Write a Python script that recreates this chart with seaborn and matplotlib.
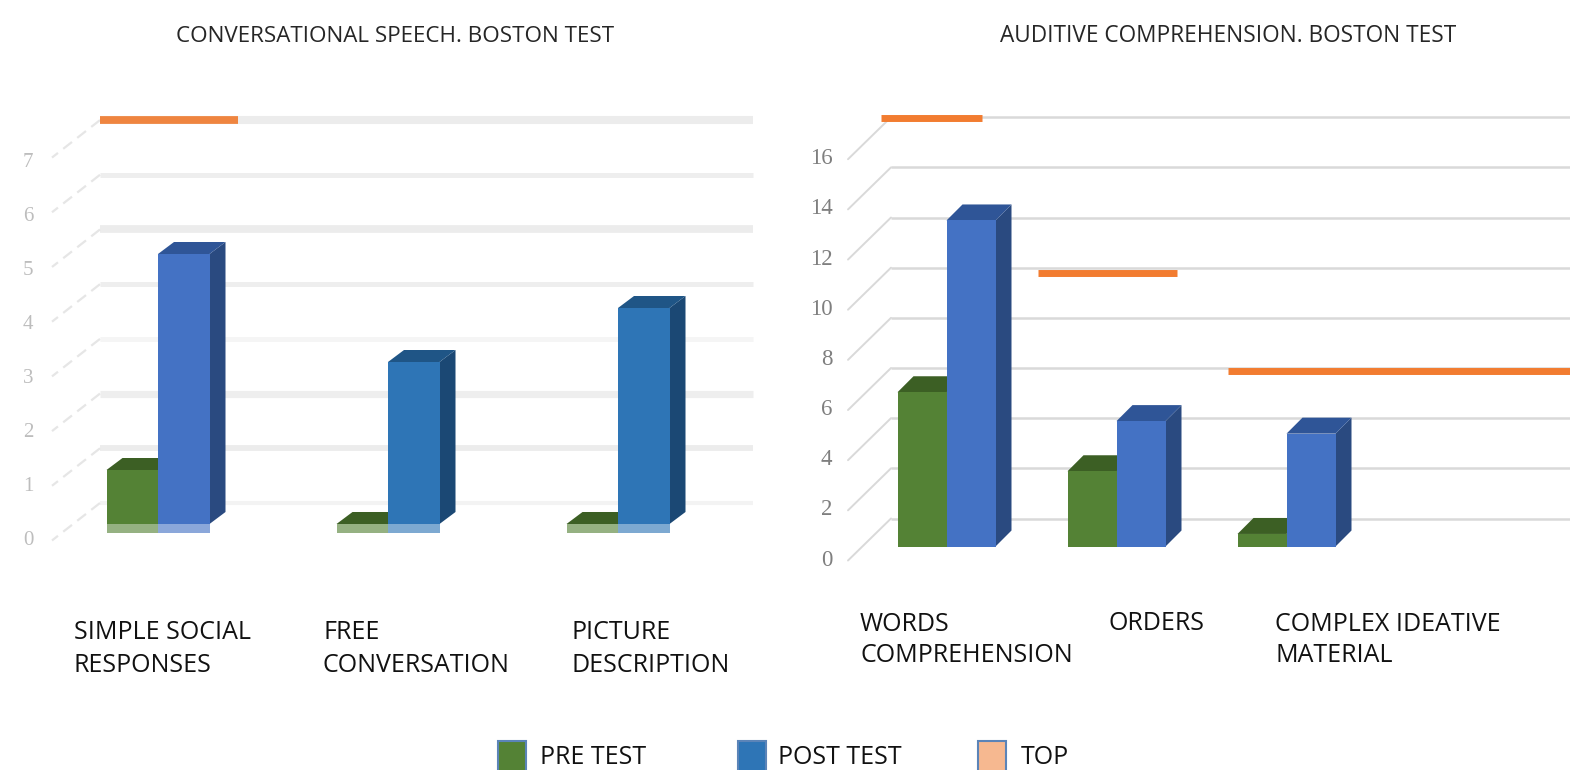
import matplotlib
matplotlib.use("Agg")
import pandas as pd
import seaborn as sns
import matplotlib.pyplot as plt
from matplotlib.patches import Polygon, Rectangle
from matplotlib.transforms import Affine2D

series_names = ["PRE TEST", "POST TEST"]

speech_categories = ["SIMPLE SOCIAL\nRESPONSES", "FREE\nCONVERSATION", "PICTURE\nDESCRIPTION"]
speech_pre = [1, 0, 0]
speech_post = [5, 3, 4]
speech_top = [7]
speech_ticks = [0, 1, 2, 3, 4, 5, 6, 7]

audit_categories = ["WORDS\nCOMPREHENSION", "ORDERS", "COMPLEX IDEATIVE\nMATERIAL"]
audit_pre = [6.15, 3, 0.5]
audit_post = [13, 5, 4.5]
audit_top = [17.1, 10.9, 7]
audit_ticks = [0, 2, 4, 6, 8, 10, 12, 14, 16]

W, H = 1570, 770
GREEN, BLUE, STEEL = "#548235", "#4472c4", "#2e75b6"
ORANGE = "#f27c30"

sns.set_theme(style="white")
plt.rcParams["font.family"] = ["Open Sans", "DejaVu Sans"]

fig = plt.figure(figsize=(W / 100, H / 100), dpi=100)


def draw_panel(cfg):
    x0, step, base, scale = cfg["x0"], cfg["step"], cfg["base"], cfg["scale"]
    left, right = x0 - step / 2, x0 + 2.5 * step
    top = base - 9 * scale if scale > 40 else base - 19 * scale
    ax = fig.add_axes([left / W, 1 - (base + scale) / H, (right - left) / W, (base + scale - top) / H])
    ax.patch.set_alpha(0)

    df = pd.DataFrame({
        "category": cfg["categories"] * 2,
        "series": [series_names[0]] * 3 + [series_names[1]] * 3,
        "value": cfg["pre"] + cfg["post"],
    })
    sns.barplot(data=df, x="category", y="value", hue="series", palette=[GREEN, BLUE],
                width=cfg["bar_w"] * 2 / step, gap=0, saturation=1, linewidth=0,
                legend=False, ax=ax)

    px_x = lambda p: (p - x0) / step
    y0_disp = H - base
    back = ax.transData + Affine2D().translate(0, -y0_disp).scale(1, cfg["wall_k"]).translate(0, y0_disp + cfg["wall"])

    # back wall
    ax.hlines(cfg["ticks"], px_x(cfg["grid_x"][0]), px_x(cfg["grid_x"][1]), transform=back,
              colors=cfg["grid_color"], linewidth=cfg["grid_lw"], zorder=0.2, clip_on=False)
    for t in cfg["ticks"]:
        ax.plot([px_x(cfg["grid_x"][0]), px_x(cfg["grid_x"][0] - cfg["floor"][0])],
                [t, t - cfg["floor"][1] / scale], transform=back, color=cfg["diag_color"],
                lw=cfg["diag_lw"], ls=cfg["diag_ls"], zorder=0.2, clip_on=False)

    # top markers
    for val, (a, b) in zip(cfg["top"], cfg["top_x"]):
        ax.hlines(val, px_x(a), px_x(b), colors=cfg["top_color"], linewidth=cfg["top_lw"], zorder=0.6,
                  clip_on=False, capstyle="butt",
                  transform=back if cfg["top_on_wall"] else ax.transData)

    # fake 3d faces
    ddx, ddy = cfg["depth"][0] / step, cfg["depth"][1] / scale
    for i, cont in enumerate(ax.containers):
        for j, bar in enumerate(cont):
            x, w, h = bar.get_x(), bar.get_width(), bar.get_height()
            front, top_c, side_c = cfg["faces"][i][j]
            bar.set_facecolor(front)
            ax.add_patch(Polygon([(x, h), (x + w, h), (x + w + ddx, h + ddy), (x + ddx, h + ddy)],
                                 facecolor=top_c, edgecolor="none", zorder=0.9))
            ax.add_patch(Polygon([(x + w, 0), (x + w + ddx, ddy), (x + w + ddx, h + ddy), (x + w, h)],
                                 facecolor=side_c, edgecolor="none", zorder=0.8))
            if cfg["reflect"]:
                ax.add_patch(Rectangle((x, 0), w, -9 / scale, facecolor=front, alpha=0.62,
                                       edgecolor="none", zorder=1))

    ax.set_xlim(-0.5, 2.5)
    ax.set_ylim(-1, (base - top) / scale)
    ax.set(xlabel="", ylabel="")
    ax.set_xticks([])
    ax.set_yticks(cfg["ticks"])
    ax.tick_params(axis="y", length=0, pad=cfg["pad"])
    for lab in ax.get_yticklabels():
        lab.set_family("Liberation Serif")
        lab.set_fontsize(cfg["tick_size"])
        lab.set_color(cfg["tick_color"])
        lab.set_transform(lab.get_transform() + Affine2D().translate(0, -cfg["label_drop"]))
    sns.despine(ax=ax, left=True, bottom=True)
    return ax


dark_green, dark_blue = ("#548235", "#3c5f24", "#3c5f24"), ("#4472c4", "#2f5597", "#2a4a80")
dark_steel = ("#2e75b6", "#1f5586", "#1b4874")

draw_panel({
    "categories": speech_categories, "pre": speech_pre, "post": speech_post, "ticks": speech_ticks,
    "top": speech_top, "top_x": [(100, 238)], "top_on_wall": True, "top_color": "#ef8540", "top_lw": 5.6,
    "x0": 158, "step": 230, "base": 524, "scale": 54.0, "bar_w": 51.5, "wall": 21, "wall_k": 1.013, "depth": (16, 12),
    "grid_x": (100, 753),
    "grid_color": ["#f3f3f3", "#ececec", "#eeeeee", "#f5f5f5", "#eeeeee", "#ececec", "#eeeeee", "#ececec"],
    "grid_lw": [3, 4.2, 5.2, 3.6, 3.6, 5.6, 3.6, 5.8],
    "floor": (48, 37), "diag_color": "#e6e6e6", "diag_lw": 1.6, "diag_ls": (0, (5, 3)),
    "faces": [[dark_green] * 3, [dark_blue, dark_steel, dark_steel]], "reflect": True,
    "pad": 7, "tick_size": 15, "tick_color": "#bdbdbd", "label_drop": 14,
})
draw_panel({
    "categories": audit_categories, "pre": audit_pre, "post": audit_post, "ticks": audit_ticks,
    "top": audit_top, "top_x": [(881, 982), (1038, 1177), (1228, 1575)], "top_on_wall": False, "top_color": ORANGE, "top_lw": 5,
    "x0": 946.5, "step": 170, "base": 546.5, "scale": 25.08, "bar_w": 49, "wall": 28, "wall_k": 1.0, "depth": (16, 16),
    "grid_x": (891, 1575), "grid_color": "#d9d9d9", "grid_lw": 1.8,
    "floor": (43, 42), "diag_color": "#d9d9d9", "diag_lw": 1.4, "diag_ls": "-",
    "faces": [[dark_green] * 3, [dark_blue] * 3], "reflect": False,
    "pad": 21, "tick_size": 16.5, "tick_color": "#7f7f7f", "label_drop": 11,
})

# titles, labels and key are placed in pixel space
overlay = fig.add_axes([0, 0, 1, 1])
overlay.set_xlim(0, W)
overlay.set_ylim(H, 0)
overlay.axis("off")

overlay.text(395.5, 36, "CONVERSATIONAL SPEECH. BOSTON TEST", ha="center", va="center", fontsize=16.1, color="#262626")
overlay.text(1228, 36, "AUDITIVE COMPREHENSION. BOSTON TEST", ha="center", va="center", fontsize=16.3, color="#262626")

for x, lab in zip([74, 323, 572], speech_categories):
    overlay.text(x, 649, lab, ha="left", va="center", fontsize=18, color="#111111", linespacing=1.45)
for x, y, lab in zip([860, 1109, 1275], [640, 624, 640], audit_categories):
    overlay.text(x, y, lab, ha="left", va="center", fontsize=18, color="#111111", linespacing=1.36)

key_labels = series_names + ["TOP"]
key_colors = [GREEN, STEEL, "#f6b890"]
for x, tx, lab, col in zip([498, 738, 978], [540, 778, 1021], key_labels, key_colors):
    overlay.add_patch(Rectangle((x, 741), 28, 32, facecolor=col, edgecolor="#5b84b8", linewidth=1.5))
    overlay.text(tx, 757, lab, ha="left", va="center", fontsize=18, color="#111111")

fig.savefig("out.png", dpi=100, facecolor="white")
